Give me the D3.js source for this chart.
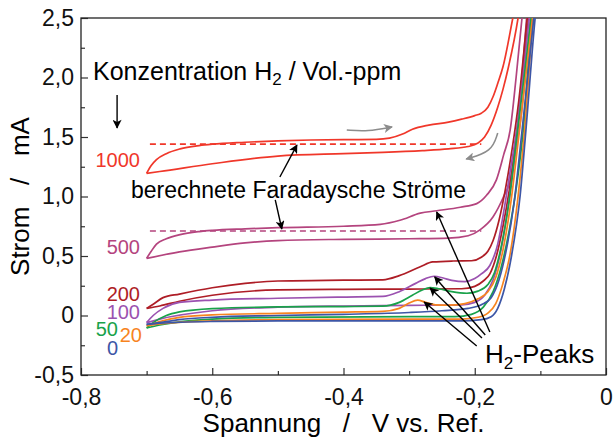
<!DOCTYPE html>
<html lang="de">
<head>
<meta charset="utf-8">
<title>CV H2</title>
<script src="https://d3js.org/d3.v7.min.js"></script>
<style>
  body { margin: 0; background: #fff; }
  svg text { font-family: "Liberation Sans", Arial, sans-serif; }
</style>
</head>
<body>
<div id="chart"></div>
<script>
// concentrations (Vol.-ppm) and colours
var concentrations = ["1000", "500", "200", "100", "50", "20", "0"];
var colors = ["#f0372a", "#b4447e", "#ae1d26", "#9b52b0", "#19a24a", "#f7841f", "#3d56a6"];

// forward (upper) and backward (lower) branch, [V, mA]
var up1000 = [[-0.7,1.195],[-0.693,1.26],[-0.685,1.31],[-0.67,1.36],[-0.649,1.40],[-0.62,1.428],[-0.6,1.44],[-0.55,1.456],[-0.5,1.468],[-0.45,1.475],[-0.4,1.478],[-0.35,1.48],[-0.33,1.49],[-0.31,1.525],[-0.295,1.565],[-0.27,1.60],[-0.24,1.625],[-0.22,1.65],[-0.2,1.68],[-0.19,1.70],[-0.18,1.75],[-0.172,1.84],[-0.165,1.95],[-0.157,2.09],[-0.142,2.5],[-0.13,2.85]];
var lo1000 = [[-0.7,1.195],[-0.68,1.21],[-0.6,1.275],[-0.5,1.34],[-0.4,1.36],[-0.34,1.37],[-0.28,1.385],[-0.24,1.40],[-0.21,1.42],[-0.195,1.45],[-0.185,1.50],[-0.175,1.60],[-0.165,1.75],[-0.157,1.90],[-0.149,2.08],[-0.134,2.5],[-0.125,2.85]];

var up500 = [[-0.7,0.48],[-0.693,0.54],[-0.685,0.60],[-0.67,0.645],[-0.649,0.68],[-0.62,0.705],[-0.6,0.715],[-0.55,0.728],[-0.5,0.738],[-0.4,0.75],[-0.344,0.766],[-0.314,0.80],[-0.283,0.86],[-0.258,0.88],[-0.222,0.91],[-0.197,0.94],[-0.182,1.01],[-0.167,1.14],[-0.156,1.35],[-0.146,1.56],[-0.137,2.0],[-0.128,2.5],[-0.12,2.9]];
var lo500 = [[-0.7,0.48],[-0.65,0.535],[-0.6,0.575],[-0.55,0.61],[-0.5,0.63],[-0.4,0.64],[-0.3,0.645],[-0.24,0.65],[-0.21,0.67],[-0.192,0.72],[-0.172,0.83],[-0.156,1.0],[-0.146,1.14],[-0.136,1.56],[-0.128,2.0],[-0.121,2.5],[-0.114,2.9]];

var up200 = [[-0.7,0.06],[-0.69,0.095],[-0.675,0.15],[-0.65,0.18],[-0.6,0.233],[-0.55,0.27],[-0.5,0.29],[-0.4,0.297],[-0.34,0.30],[-0.315,0.335],[-0.283,0.41],[-0.264,0.45],[-0.233,0.458],[-0.205,0.46],[-0.19,0.49],[-0.18,0.54],[-0.172,0.63],[-0.163,0.80],[-0.153,1.07],[-0.143,1.4],[-0.133,1.8],[-0.12,2.5],[-0.11,3.0]];
var lo200 = [[-0.7,0.06],[-0.68,0.08],[-0.65,0.12],[-0.6,0.17],[-0.5,0.215],[-0.4,0.22],[-0.3,0.222],[-0.22,0.225],[-0.2,0.245],[-0.187,0.29],[-0.177,0.35],[-0.167,0.5],[-0.157,0.75],[-0.146,1.1],[-0.136,1.5],[-0.118,2.5],[-0.108,3.0]];

var up100 = [[-0.7,-0.06],[-0.69,0.0],[-0.675,0.06],[-0.65,0.11],[-0.6,0.13],[-0.5,0.145],[-0.4,0.155],[-0.34,0.16],[-0.315,0.2],[-0.29,0.27],[-0.275,0.31],[-0.262,0.33],[-0.248,0.315],[-0.235,0.295],[-0.215,0.285],[-0.2,0.31],[-0.19,0.35],[-0.177,0.42],[-0.165,0.6],[-0.155,0.9],[-0.145,1.25],[-0.135,1.6],[-0.117,2.5],[-0.107,3.0]];
var lo100 = [[-0.7,-0.06],[-0.68,-0.03],[-0.6,0.04],[-0.5,0.07],[-0.4,0.08],[-0.3,0.085],[-0.22,0.09],[-0.2,0.11],[-0.185,0.17],[-0.172,0.3],[-0.16,0.55],[-0.148,0.95],[-0.137,1.4],[-0.13,1.65],[-0.115,2.5],[-0.105,3.0]];

var up50 = [[-0.7,-0.105],[-0.69,-0.06],[-0.67,0.0],[-0.65,0.03],[-0.6,0.058],[-0.5,0.072],[-0.4,0.075],[-0.34,0.078],[-0.315,0.11],[-0.295,0.17],[-0.28,0.215],[-0.268,0.235],[-0.255,0.225],[-0.235,0.2],[-0.212,0.187],[-0.195,0.205],[-0.18,0.26],[-0.17,0.36],[-0.16,0.57],[-0.148,0.95],[-0.136,1.5],[-0.114,2.5],[-0.104,3.0]];
var lo50 = [[-0.7,-0.105],[-0.68,-0.08],[-0.6,-0.03],[-0.5,-0.015],[-0.3,-0.01],[-0.23,-0.01],[-0.205,0.01],[-0.187,0.07],[-0.172,0.2],[-0.16,0.4],[-0.148,0.7],[-0.136,1.1],[-0.126,1.56],[-0.113,2.5],[-0.103,3.0]];

var up20 = [[-0.7,-0.085],[-0.68,-0.05],[-0.65,-0.015],[-0.6,0.005],[-0.5,0.018],[-0.4,0.028],[-0.34,0.035],[-0.315,0.06],[-0.3,0.105],[-0.287,0.13],[-0.275,0.11],[-0.26,0.09],[-0.24,0.087],[-0.215,0.1],[-0.195,0.14],[-0.18,0.2],[-0.168,0.32],[-0.157,0.55],[-0.145,0.95],[-0.133,1.5],[-0.112,2.5],[-0.102,3.0]];
var lo20 = [[-0.7,-0.085],[-0.68,-0.07],[-0.6,-0.045],[-0.5,-0.035],[-0.3,-0.03],[-0.22,-0.03],[-0.195,-0.015],[-0.18,0.02],[-0.168,0.1],[-0.157,0.27],[-0.146,0.52],[-0.134,1.0],[-0.124,1.56],[-0.111,2.5],[-0.101,3.0]];

var up0 = [[-0.7,-0.075],[-0.68,-0.06],[-0.65,-0.035],[-0.6,-0.015],[-0.5,0.0],[-0.4,0.01],[-0.3,0.025],[-0.25,0.04],[-0.21,0.06],[-0.19,0.09],[-0.175,0.15],[-0.163,0.3],[-0.152,0.55],[-0.14,0.95],[-0.128,1.55],[-0.11,2.5],[-0.1,3.0]];
var lo0 = [[-0.7,-0.075],[-0.68,-0.065],[-0.6,-0.05],[-0.5,-0.045],[-0.3,-0.045],[-0.22,-0.045],[-0.19,-0.035],[-0.175,-0.01],[-0.165,0.06],[-0.155,0.22],[-0.144,0.5],[-0.131,1.0],[-0.122,1.56],[-0.108,2.5],[-0.098,3.0]];

var upper = [up1000, up500, up200, up100, up50, up20, up0];
var lower = [lo1000, lo500, lo200, lo100, lo50, lo20, lo0];

// calculated Faraday currents (dashed), [V start, V end, mA]
var faraday = [[-0.695, -0.19, 1.44], [-0.695, -0.19, 0.71]];

var xTicks = [-0.8, -0.6, -0.4, -0.2, 0];
var xMinor = [-0.7, -0.5, -0.3, -0.1];
var yTicks = [-0.5, 0, 0.5, 1.0, 1.5, 2.0, 2.5];
var yMinor = [-0.25, 0.25, 0.75, 1.25, 1.75, 2.25];

var W = 613, H = 439;
var margin = {top: 18, right: 7, bottom: 64, left: 81};
var width = W - margin.left - margin.right,
    height = H - margin.top - margin.bottom;

var x = d3.scaleLinear().domain([-0.8, 0]).range([0, width]);
var y = d3.scaleLinear().domain([-0.5, 2.5]).range([height, 0]);

// German decimal comma, plain hyphen as minus
function fmt(d) { return d === 0 ? "0" : d.toFixed(1).replace(".", ","); }

var svg = d3.select("#chart").append("svg")
    .attr("width", W).attr("height", H);
var g = svg.append("g")
    .attr("transform", "translate(" + margin.left + "," + margin.top + ")");

g.append("clipPath").attr("id", "clip")
  .append("rect").attr("width", width).attr("height", height);

// axes with inward ticks
var axB = g.append("g").attr("transform", "translate(0," + height + ")")
    .call(d3.axisBottom(x).tickValues(xTicks).tickSize(-7).tickPadding(14).tickFormat(fmt));
axB.append("g").call(d3.axisBottom(x).tickValues(xMinor).tickSize(-4).tickFormat(""));
var axL = g.append("g")
    .call(d3.axisLeft(y).tickValues(yTicks).tickSize(-7).tickPadding(7).tickFormat(fmt));
axL.append("g").call(d3.axisLeft(y).tickValues(yMinor).tickSize(-4).tickFormat(""));
g.selectAll(".domain").remove();
g.selectAll(".tick line").attr("stroke", "#333").attr("stroke-width", 1.2);
g.selectAll(".tick text").attr("font-size", 23).attr("fill", "#111")
  .style("font-family", "'Liberation Sans', Arial, sans-serif");

g.append("rect").attr("width", width).attr("height", height)
  .attr("fill", "none").attr("stroke", "#222").attr("stroke-width", 1.3);

var line = d3.line()
    .x(function(d) { return x(d[0]); })
    .y(function(d) { return y(d[1]); })
    .curve(d3.curveMonotoneX);

var plot = g.append("g").attr("clip-path", "url(#clip)");

// dashed lines
plot.selectAll(".faraday").data(faraday).enter().append("line")
  .attr("x1", function(d) { return x(d[0]); })
  .attr("x2", function(d) { return x(d[1]); })
  .attr("y1", function(d) { return y(d[2]); })
  .attr("y2", function(d) { return y(d[2]); })
  .attr("stroke", function(d, i) { return colors[i]; })
  .attr("stroke-width", 1.6)
  .attr("stroke-dasharray", "6,4");

concentrations.forEach(function(c, i) {
  [upper[i], lower[i]].forEach(function(branch) {
    plot.append("path").datum(branch)
      .attr("d", line)
      .attr("fill", "none")
      .attr("stroke", colors[i])
      .attr("stroke-width", 1.7);
  });
});

// concentration labels
var labels = [
  {t: "1000", x: 140, y: 167}, {t: "500", x: 140, y: 254}, {t: "200", x: 140, y: 301},
  {t: "100", x: 140, y: 319}, {t: "50", x: 118, y: 336}, {t: "20", x: 142, y: 342},
  {t: "0", x: 118, y: 355}
];
svg.selectAll(".clabel").data(labels).enter().append("text")
  .attr("x", function(d) { return d.x; })
  .attr("y", function(d) { return d.y; })
  .attr("text-anchor", "end")
  .attr("font-size", 20)
  .attr("fill", function(d, i) { return colors[i]; })
  .text(function(d) { return d.t; });

// arrow heads
var defs = svg.append("defs");
[["ah", "#000"], ["ahg", "#8c8c8c"]].forEach(function(m) {
  defs.append("marker").attr("id", m[0])
    .attr("viewBox", "0 0 10 10").attr("refX", 9).attr("refY", 5)
    .attr("markerWidth", 11).attr("markerHeight", 9)
    .attr("markerUnits", "userSpaceOnUse")
    .attr("orient", "auto")
    .append("path").attr("d", "M0,0 L10,5 L0,10 L2.5,5 Z").attr("fill", m[1]);
});

// black annotation arrows, [V1, I1, V2, I2]
var arrows = [
  [-0.745, 1.853, -0.745, 1.576],
  [-0.497, 1.164, -0.471, 1.432],
  [-0.504, 0.971, -0.494, 0.727],
  [-0.177, -0.139, -0.258, 0.870],
  [-0.184, -0.164, -0.261, 0.324],
  [-0.189, -0.189, -0.268, 0.231],
  [-0.197, -0.256, -0.277, 0.113]
];
g.selectAll(".arr").data(arrows).enter().append("line")
  .attr("x1", function(d) { return x(d[0]); })
  .attr("y1", function(d) { return y(d[1]); })
  .attr("x2", function(d) { return x(d[2]); })
  .attr("y2", function(d) { return y(d[3]); })
  .attr("stroke", "#000").attr("stroke-width", 1.4)
  .attr("marker-end", "url(#ah)");

// gray scan-direction arrows
var scanArrows = [
  [[-0.395, 1.559], [-0.363, 1.546], [-0.326, 1.584]],
  [[-0.165, 1.534], [-0.174, 1.374], [-0.213, 1.315]]
];
g.selectAll(".scan").data(scanArrows).enter().append("path")
  .attr("d", d3.line().x(function(d) { return x(d[0]); }).y(function(d) { return y(d[1]); }).curve(d3.curveBasis))
  .attr("fill", "none").attr("stroke", "#8c8c8c").attr("stroke-width", 1.6)
  .attr("marker-end", "url(#ahg)");

// texts
var t1 = svg.append("text").attr("x", 93).attr("y", 80).attr("font-size", 25).attr("fill", "#000");
t1.append("tspan").text("Konzentration H");
t1.append("tspan").attr("font-size", 17).attr("dy", 5).text("2");
t1.append("tspan").attr("dy", -5).text(" / Vol.-ppm");

svg.append("text").attr("x", 131).attr("y", 198).attr("font-size", 23)
  .text("berechnete Faradaysche Ströme");

var t2 = svg.append("text").attr("x", 485).attr("y", 363).attr("font-size", 26);
t2.append("tspan").text("H");
t2.append("tspan").attr("font-size", 17).attr("dy", 6).text("2");
t2.append("tspan").attr("dy", -6).text("-Peaks");

svg.append("text").attr("x", margin.left + x(-0.4)).attr("y", 432)
  .attr("text-anchor", "middle").attr("font-size", 26)
  .style("white-space", "pre")
  .text("Spannung   /   V vs. Ref.");

svg.append("text")
  .attr("transform", "translate(29," + (margin.top + y(1.0)) + ") rotate(-90)")
  .attr("text-anchor", "middle").attr("font-size", 26)
  .style("white-space", "pre")
  .text("Strom   /   mA");
</script>
</body>
</html>
